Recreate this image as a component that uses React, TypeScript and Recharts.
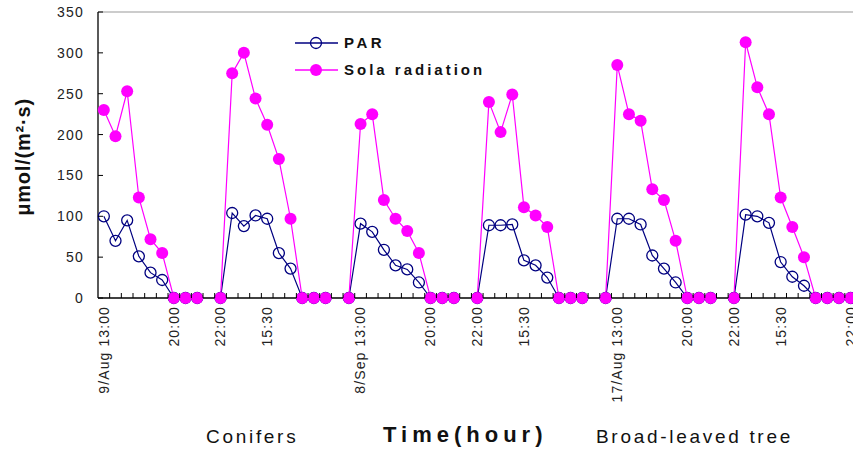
import { LineChart, Line, XAxis, YAxis, ReferenceLine } from 'recharts'

// one slot per reading; null = reading missing (overnight gap)
const slots = Array.from({ length: 65 }, (_, i) => i)

const par = [
  100, 70, 95, 51, 31, 22, 0, 0, 0, null, 0,
  104, 88, 101, 97, 55, 36, 0, 0, 0, null, 0,
  91, 81, 59, 40, 35, 19, 0, 0, 0, null, 0,
  89, 89, 90, 46, 40, 25, 0, 0, 0, null, 0,
  97, 97, 90, 52, 36, 19, 0, 0, 0, null, 0,
  102, 100, 92, 44, 26, 15, 0, 0, 0, 0,
]

const sola = [
  230, 198, 253, 123, 72, 55, 0, 0, 0, null, 0,
  275, 300, 244, 212, 170, 97, 0, 0, 0, null, 0,
  213, 225, 120, 97, 82, 55, 0, 0, 0, null, 0,
  240, 203, 249, 111, 101, 87, 0, 0, 0, null, 0,
  285, 225, 217, 133, 120, 70, 0, 0, 0, null, 0,
  313, 258, 225, 123, 87, 50, 0, 0, 0, 0,
]

const labelSlots = [0, 6, 10, 14, 22, 28, 32, 36, 44, 50, 54, 58, 64]
const labelText = [
  '9/Aug 13:00', '20:00', '22:00', '15:30',
  '8/Sep 13:00', '20:00', '22:00', '15:30',
  '17/Aug 13:00', '20:00', '22:00', '15:30', '22:00',
]
const yTicks = [0, 50, 100, 150, 200, 250, 300, 350]

const FONT = 'Arial, "Liberation Sans", sans-serif'
const NAVY = '#000080'
const PINK = '#FF00FF'

const rows = slots.map(i => ({ i, par: par[i], sola: sola[i] }))
const markTicks = slots.slice(0, 64).map(i => i + 0.5)
const xTicks = [...markTicks, ...labelSlots]

function XTick({ x, y, payload }: any) {
  const v = payload.value
  if (!Number.isInteger(v)) {
    return <line x1={x} x2={x} y1={y - 5} y2={y} stroke="#000" strokeWidth={1} />
  }
  const text = labelText[labelSlots.indexOf(v)]
  return (
    <text
      x={x} y={y + 8} dy="0.35em"
      transform={`rotate(-90 ${x} ${y + 8})`}
      textAnchor="end"
      fill="#222" fontSize={14} letterSpacing={1.1} fontFamily={FONT}
    >{text}</text>
  )
}

function YTick({ x, y, payload }: any) {
  return (
    <g>
      <line x1={x} x2={x + 5} y1={y} y2={y} stroke="#000" strokeWidth={1} />
      <text x={x - 14} y={y} dy="0.36em" textAnchor="end" fill="#222"
        fontSize={14} letterSpacing={1.2} fontFamily={FONT}>{payload.value}</text>
    </g>
  )
}

function LegendBox() {
  return (
    <svg width={220} height={50} style={{ position: 'absolute', left: 290, top: 30 }}>
      <line x1={5} x2={48} y1={13} y2={13} stroke={NAVY} strokeWidth={1.3} />
      <circle cx={26} cy={13} r={5.5} fill="none" stroke={NAVY} strokeWidth={1.3} />
      <text x={54} y={13} dy="0.36em" fontSize={15} fontWeight="bold" letterSpacing={3.5}
        fontFamily={FONT} fill="#111">PAR</text>
      <line x1={5} x2={48} y1={40} y2={40} stroke={PINK} strokeWidth={1.3} />
      <circle cx={26} cy={40} r={6} fill={PINK} />
      <text x={54} y={40} dy="0.36em" fontSize={15} fontWeight="bold" letterSpacing={3}
        fontFamily={FONT} fill="#111">Sola radiation</text>
    </svg>
  )
}

const bottomText = { position: 'absolute' as const, top: 426, fontFamily: FONT, color: '#111', whiteSpace: 'nowrap' as const }

export default function App() {
  return (
    <div style={{ position: 'absolute', left: 0, top: 0, width: 853, height: 452, overflow: 'hidden', background: '#fff' }}>
      <LineChart width={853} height={452} data={rows} margin={{ top: 12, right: 0, bottom: 54, left: 0 }}>
        <XAxis
          dataKey="i" type="number" domain={[-0.5, 64.2]} ticks={xTicks} interval={0}
          height={100} tickSize={0} tickMargin={0} tickLine={false} tick={<XTick />}
          axisLine={{ stroke: '#000', strokeWidth: 1.3 }}
        />
        <YAxis
          domain={[0, 350]} ticks={yTicks} interval={0} width={98}
          tickSize={0} tickMargin={0} tickLine={false} tick={<YTick />}
          axisLine={{ stroke: '#000', strokeWidth: 1.3 }}
        />
        <ReferenceLine y={350} stroke="#999" strokeWidth={1} />
        <Line dataKey="par" stroke={NAVY} strokeWidth={1.2} isAnimationActive={false}
          dot={{ r: 5.5, fill: 'none', stroke: NAVY, strokeWidth: 1.3 }} activeDot={false} />
        <Line dataKey="sola" stroke={PINK} strokeWidth={1.2} isAnimationActive={false}
          dot={{ r: 6, fill: PINK, stroke: PINK, strokeWidth: 0 }} activeDot={false} />
      </LineChart>
      <LegendBox />
      <div style={{
        position: 'absolute', left: 23, top: 157, transform: 'translate(-50%, -50%) rotate(-90deg)',
        fontFamily: FONT, fontWeight: 'bold', fontSize: 20, letterSpacing: 0.8, whiteSpace: 'nowrap', color: '#111',
      }}>μmol/(m²·s)</div>
      <div style={{ ...bottomText, left: 206, fontSize: 19, letterSpacing: 2.7 }}>Conifers</div>
      <div style={{ ...bottomText, left: 383, top: 422, fontSize: 22, fontWeight: 'bold', letterSpacing: 5 }}>Time(hour)</div>
      <div style={{ ...bottomText, left: 596, fontSize: 19, letterSpacing: 2.7 }}>Broad-leaved tree</div>
    </div>
  )
}
